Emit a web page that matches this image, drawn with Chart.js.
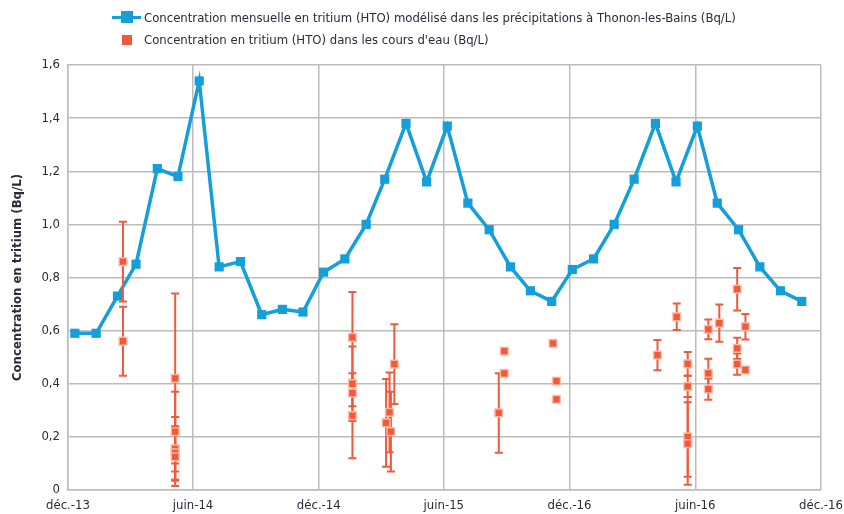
<!DOCTYPE html>
<html lang="fr">
<head>
<meta charset="utf-8">
<title>Tritium (HTO) – Thonon-les-Bains</title>
<script src="https://cdn.jsdelivr.net/npm/chart.js@4.4.1/dist/chart.umd.min.js"></script>
<style>
  html, body { margin: 0; padding: 0; background: #ffffff; }
  #wrap { position: relative; width: 844px; height: 514px; }
  canvas { position: absolute; left: 0; top: 0; }
  .legend { position: absolute; left: 0; top: 0; font-family: "Liberation Sans Narrow", "Arial Narrow", "DejaVu Sans Condensed", sans-serif; font-size: 13px; color: #2b2b3a; }
  .item { position: absolute; white-space: nowrap; height: 16px; line-height: 16px; }
  .line-icon { position: absolute; top: 6px; height: 3px; background: #159fd8; }
  .sq { position: absolute; }
</style>
</head>
<body>
<div id="wrap">
  <canvas id="chart" width="844" height="514"></canvas>
  <div class="legend">
    <div class="item" style="left:112px; top:10px; width:700px;">
      <span class="line-icon" style="left:0; width:29px;"></span>
      <span class="sq" style="left:9px; top:1px; width:12px; height:12px; background:#159fd8;"></span>
      <span style="position:absolute; left:32px;">Concentration mensuelle en tritium (HTO) modélisé dans les précipitations à Thonon-les-Bains (Bq/L)</span>
    </div>
    <div class="item" style="left:112px; top:32px; width:400px;">
      <span class="sq" style="left:10px; top:3px; width:10px; height:10px; background:#f05a3c;"></span>
      <span style="position:absolute; left:32px;">Concentration en tritium (HTO) dans les cours d'eau (Bq/L)</span>
    </div>
  </div>
</div>
<script>
// Axis ticks (dates of the vertical grid lines) and their labels
const xTickDates  = ['2013-12-01', '2014-06-01', '2014-12-01', '2015-06-01', '2015-12-01', '2016-06-01', '2016-12-01'];
const xTickLabels = ['déc.-13', 'juin-14', 'déc.-14', 'juin-15', 'déc.-16', 'juin-16', 'déc.-16'];
const yTickLabels = ['0', '0,2', '0,4', '0,6', '0,8', '1,0', '1,2', '1,4', '1,6'];

// Monthly modelled tritium concentration in precipitation (Bq/L)
const blueDates = [
  '2013-12-11', '2014-01-11', '2014-02-11', '2014-03-10', '2014-04-10', '2014-05-10',
  '2014-06-10', '2014-07-09', '2014-08-09', '2014-09-09', '2014-10-09', '2014-11-08',
  '2014-12-08', '2015-01-08', '2015-02-08', '2015-03-07', '2015-04-07', '2015-05-07',
  '2015-06-06', '2015-07-06', '2015-08-06', '2015-09-06', '2015-10-05', '2015-11-05',
  '2015-12-05', '2016-01-05', '2016-02-04', '2016-03-04', '2016-04-04', '2016-05-04',
  '2016-06-04', '2016-07-03', '2016-08-03', '2016-09-03', '2016-10-03', '2016-11-03'
];
const blueValues = [
  0.59, 0.59, 0.73, 0.85, 1.21, 1.18,
  1.54, 0.84, 0.86, 0.66, 0.68, 0.67,
  0.82, 0.87, 1.00, 1.17, 1.38, 1.16,
  1.37, 1.08, 0.98, 0.84, 0.75, 0.71,
  0.83, 0.87, 1.00, 1.17, 1.38, 1.16,
  1.37, 1.08, 0.98, 0.84, 0.75, 0.71
];

// River samples: date, tritium concentration (Bq/L) and measurement uncertainty
const redDates = [
  '2014-02-19', '2014-02-19',
  '2014-05-06', '2014-05-06', '2014-05-06', '2014-05-06', '2014-05-06',
  '2015-01-19', '2015-01-19', '2015-01-19', '2015-01-19',
  '2015-03-09', '2015-03-14', '2015-03-16', '2015-03-21',
  '2015-08-20', '2015-08-28', '2015-08-28',
  '2015-11-07', '2015-11-12', '2015-11-12',
  '2016-04-07', '2016-05-05',
  '2016-05-21', '2016-05-21', '2016-05-21', '2016-05-21',
  '2016-06-20', '2016-06-20', '2016-06-20',
  '2016-07-06',
  '2016-08-01', '2016-08-01', '2016-08-01',
  '2016-08-13', '2016-08-13'
];
const redValues = [
  0.86, 0.56,
  0.42, 0.22, 0.155, 0.14, 0.125,
  0.575, 0.40, 0.365, 0.28,
  0.253, 0.292, 0.22, 0.474,
  0.29, 0.523, 0.439,
  0.552, 0.41, 0.341,
  0.508, 0.652,
  0.475, 0.39, 0.20, 0.175,
  0.605, 0.439, 0.38,
  0.628,
  0.756, 0.533, 0.474,
  0.615, 0.452
];
const redErrors = [
  0.15, 0.13,
  0.32, 0.15, 0.12, 0.10, 0.11,
  0.17, 0.14, 0.05, 0.16,
  0.165, 0.15, 0.15, 0.15,
  0.15, 0.012, 0.008,
  0.01, 0.01, 0.0,
  0.057, 0.05,
  0.045, 0.04, 0.15, 0.155,
  0.037, 0.055, 0.04,
  0.07,
  0.08, 0.04, 0.04,
  0.048, 0.01
];

const BLUE = '#159fd8';
const RED = '#f05a3c';
const GRID = '#bcbcbc';
const TEXT = '#2b2b3a';
const FONT = '"Liberation Sans Narrow", "Arial Narrow", "DejaVu Sans Condensed", sans-serif';

// Days elapsed since the first axis date
const origin = Date.UTC(2013, 11, 1);
function dayOf(s) {
  const [y, m, d] = s.split('-').map(Number);
  return Math.round((Date.UTC(y, m - 1, d) - origin) / 86400000);
}
const xTicks = xTickDates.map(dayOf);

const blueData = blueDates.map((d, i) => ({ x: dayOf(d), y: blueValues[i] }));
const redData = redDates.map((d, i) => ({ x: dayOf(d), y: redValues[i], err: redErrors[i] }));

// Vertical uncertainty bars with end caps, drawn just before the river points
const errorBars = {
  id: 'errorBars',
  beforeDatasetDraw(chart, args) {
    if (args.index !== 1) return;
    const { ctx, scales: { x, y } } = chart;
    ctx.save();
    ctx.strokeStyle = RED;
    ctx.lineWidth = 2;
    redData.forEach(p => {
      if (!p.err) return;
      const px = x.getPixelForValue(p.x);
      const top = y.getPixelForValue(p.y + p.err);
      const bot = y.getPixelForValue(Math.max(0, p.y - p.err));
      ctx.beginPath();
      ctx.moveTo(px, top); ctx.lineTo(px, bot);
      ctx.moveTo(px - 4, top); ctx.lineTo(px + 4, top);
      ctx.moveTo(px - 4, bot); ctx.lineTo(px + 4, bot);
      ctx.stroke();
    });
    ctx.restore();
  }
};

new Chart(document.getElementById('chart'), {
  type: 'line',
  data: {
    datasets: [
      {
        label: 'Concentration mensuelle en tritium (HTO) modélisé dans les précipitations à Thonon-les-Bains (Bq/L)',
        data: blueData,
        borderColor: BLUE,
        backgroundColor: BLUE,
        borderWidth: 3.5,
        pointStyle: 'rect',
        pointRadius: 6.5,
        pointBorderWidth: 0,
        tension: 0,
        order: 2
      },
      {
        label: "Concentration en tritium (HTO) dans les cours d'eau (Bq/L)",
        data: redData,
        showLine: false,
        borderColor: 'rgba(255,190,170,0.9)',
        backgroundColor: RED,
        pointStyle: 'rect',
        pointRadius: 5.5,
        pointBorderWidth: 1.5,
        order: 1
      }
    ]
  },
  options: {
    responsive: false,
    animation: false,
    layout: { padding: { top: 65, right: 23, left: 0, bottom: 0 } },
    plugins: { legend: { display: false }, tooltip: { enabled: false } },
    scales: {
      x: {
        type: 'linear',
        min: xTicks[0],
        max: xTicks[xTicks.length - 1],
        afterBuildTicks(scale) { scale.ticks = xTicks.map(v => ({ value: v })); },
        afterFit(scale) { scale.height = 24; scale.paddingLeft = 0; scale.paddingRight = 0; },
        grid: { color: GRID, lineWidth: 1.5, drawTicks: false },
        border: { color: GRID, width: 1.5 },
        ticks: {
          padding: 8,
          maxRotation: 0,
          autoSkip: false,
          color: TEXT,
          font: { family: FONT, size: 13 },
          callback: (v, i) => xTickLabels[i]
        }
      },
      y: {
        min: 0,
        max: 1.6,
        afterFit(scale) { scale.width = 68; },
        grid: { color: GRID, lineWidth: 1.5, drawTicks: false },
        border: { color: GRID, width: 1.5 },
        ticks: {
          stepSize: 0.2,
          padding: 8,
          color: TEXT,
          font: { family: FONT, size: 13 },
          callback: (v, i) => yTickLabels[i]
        },
        title: {
          display: true,
          text: 'Concentration en tritium (Bq/L)',
          color: TEXT,
          font: { family: FONT, size: 13, weight: 'bold' },
          padding: { top: 10, bottom: 0 }
        }
      }
    }
  },
  plugins: [errorBars]
});
</script>
</body>
</html>
